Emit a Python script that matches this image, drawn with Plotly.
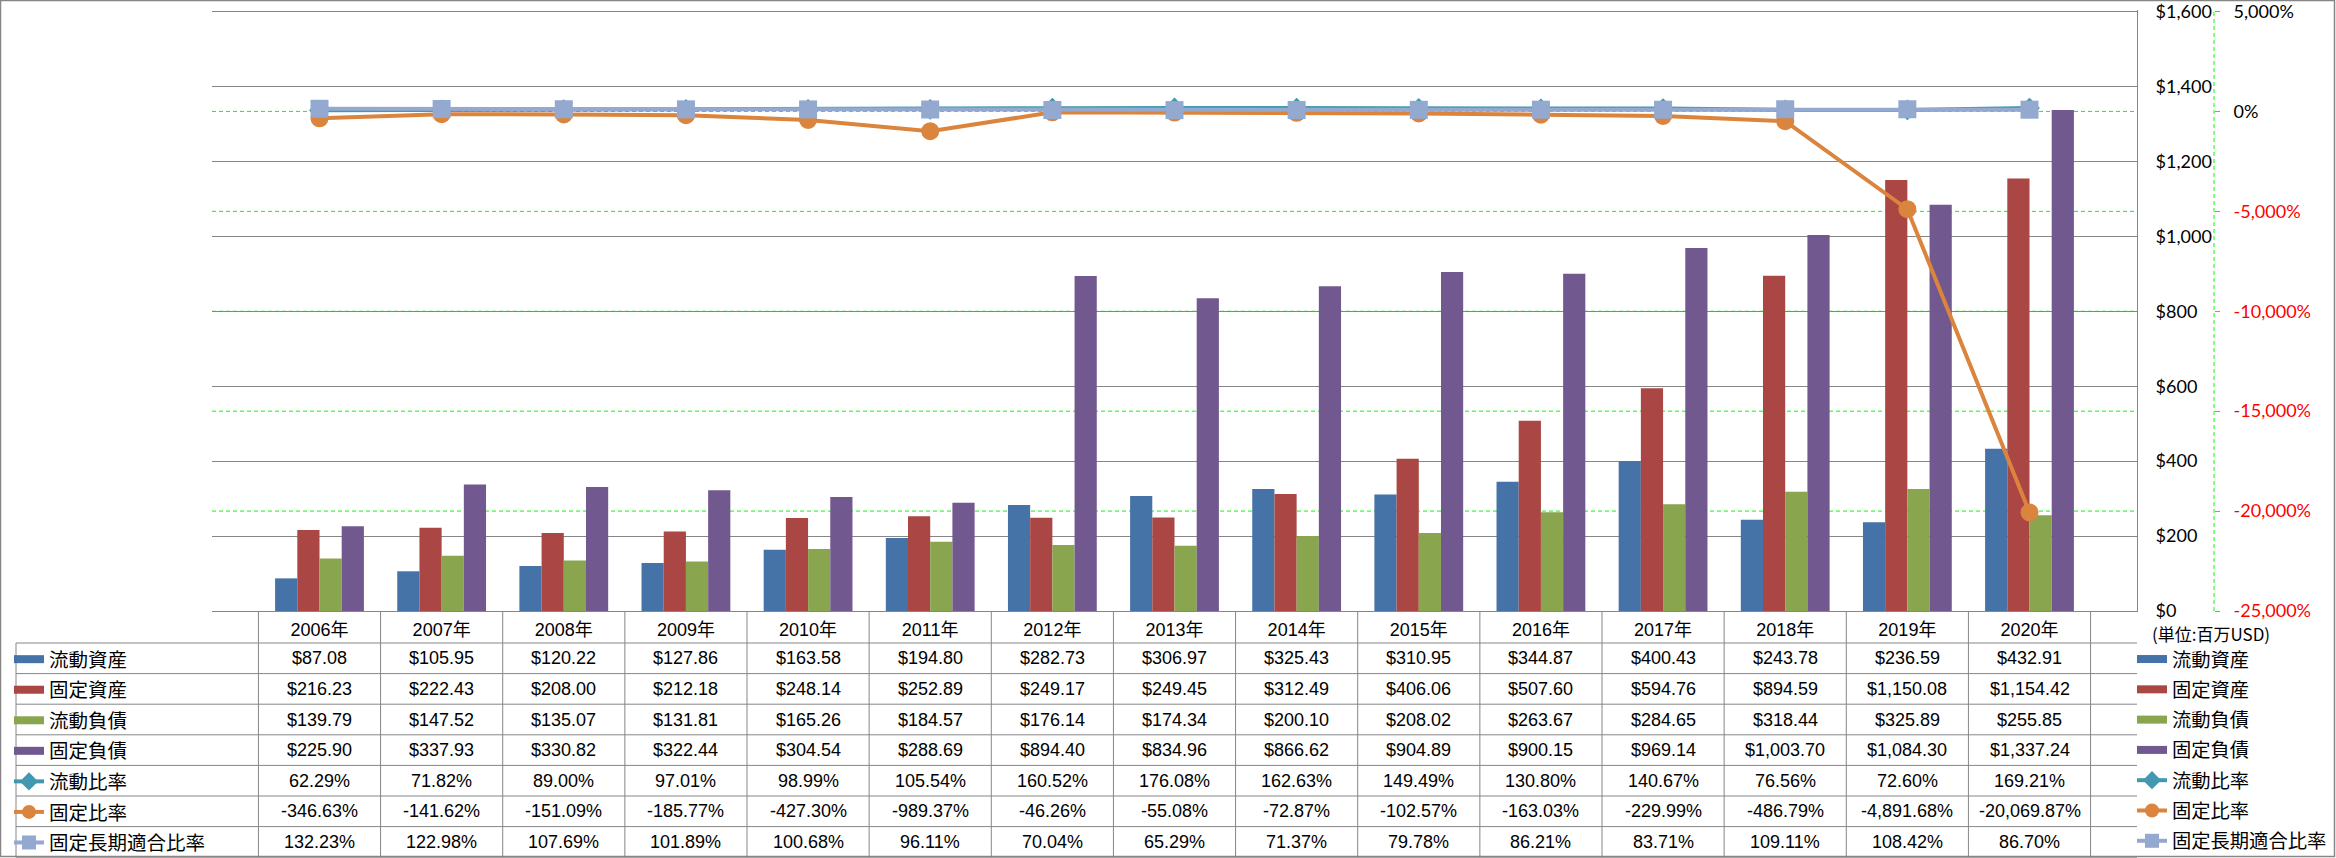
import plotly.graph_objects as go

# ---------------- data ----------------
categories = ['2006年', '2007年', '2008年', '2009年', '2010年', '2011年', '2012年', '2013年',
              '2014年', '2015年', '2016年', '2017年', '2018年', '2019年', '2020年']

current_assets = [87.08, 105.95, 120.22, 127.86, 163.58, 194.80, 282.73, 306.97,
                  325.43, 310.95, 344.87, 400.43, 243.78, 236.59, 432.91]
fixed_assets = [216.23, 222.43, 208.00, 212.18, 248.14, 252.89, 249.17, 249.45,
                312.49, 406.06, 507.60, 594.76, 894.59, 1150.08, 1154.42]
current_liabilities = [139.79, 147.52, 135.07, 131.81, 165.26, 184.57, 176.14, 174.34,
                       200.10, 208.02, 263.67, 284.65, 318.44, 325.89, 255.85]
fixed_liabilities = [225.90, 337.93, 330.82, 322.44, 304.54, 288.69, 894.40, 834.96,
                     866.62, 904.89, 900.15, 969.14, 1003.70, 1084.30, 1337.24]

current_ratio = [62.29, 71.82, 89.00, 97.01, 98.99, 105.54, 160.52, 176.08,
                 162.63, 149.49, 130.80, 140.67, 76.56, 72.60, 169.21]
fixed_ratio = [-346.63, -141.62, -151.09, -185.77, -427.30, -989.37, -46.26, -55.08,
               -72.87, -102.57, -163.03, -229.99, -486.79, -4891.68, -20069.87]
fixed_long_term_ratio = [132.23, 122.98, 107.69, 101.89, 100.68, 96.11, 70.04, 65.29,
                         71.37, 79.78, 86.21, 83.71, 109.11, 108.42, 86.70]

bar_names = ['流動資産', '固定資産', '流動負債', '固定負債']
line_names = ['流動比率', '固定比率', '固定長期適合比率']

y1_ticks = [0, 200, 400, 600, 800, 1000, 1200, 1400, 1600]
y2_ticks = [-25000, -20000, -15000, -10000, -5000, 0, 5000]
unit_label = '(単位:百万USD)'

# ---------------- styles ----------------
bar_colors = ['#4572A7', '#AA4643', '#89A54E', '#71588F']
line_colors = ['#4198AF', '#DB843D', '#93A9CF']
line_symbols = ['diamond', 'circle', 'square']
line_sizes = [16, 18, 18]
GRAY = '#868686'
GREEN = '#00FF00'
CJK = 'Noto Sans CJK JP'
NUMFONT = 'Liberation Sans, Noto Sans CJK JP'
AXFONT = 'Lato, Noto Sans CJK JP'

W, H = 2336, 858
ML, MR, MT, MB = 212, 122, 10, 247
PW = W - ML - MR
PH = H - MT - MB
PLOT_RIGHT = 2137
xdom = (PLOT_RIGHT - ML) / PW
TOP_PAD_PX = 1.5  # headroom so the top gridline is drawn
EPS = TOP_PAD_PX / (PH - TOP_PAD_PX)


def px_x(X):
    return (X - ML) / PW


def px_y(Y):
    return (H - MB - Y) / PH


row_top = 643
row_h = 30.6
row_bounds = [row_top + k * row_h for k in range(8)]
row_centers = [row_top + (k + 0.5) * row_h for k in range(7)]

fig = go.Figure()

bar_series = [current_assets, fixed_assets, current_liabilities, fixed_liabilities]
for name, vals, col in zip(bar_names, bar_series, bar_colors):
    fig.add_trace(go.Bar(x=categories, y=vals, name=name, marker=dict(color=col, line=dict(width=0)),
                         showlegend=False, yaxis='y'))

line_series = [current_ratio, fixed_ratio, fixed_long_term_ratio]
for name, vals, col, sym, sz in zip(line_names, line_series, line_colors, line_symbols, line_sizes):
    fig.add_trace(go.Scatter(x=categories, y=vals, name=name, yaxis='y2', mode='lines+markers',
                             line=dict(color=col, width=4),
                             marker=dict(symbol=sym, size=sz, color=col, line=dict(width=0)),
                             showlegend=False))

# legend key entries (left table keys and right legend)
for lg in ['legend', 'legend2']:
    for k, (name, col) in enumerate(zip(bar_names, bar_colors)):
        fig.add_trace(go.Scatter(x=[None], y=[None], name=name, mode='lines',
                                 line=dict(color=col, width=8), legend=lg,
                                 legendgroup=f'{lg}_b{k}', showlegend=True))
    for k, (name, col, sym) in enumerate(zip(line_names, line_colors, line_symbols)):
        fig.add_trace(go.Scatter(x=[None], y=[None], name=name, mode='lines+markers',
                                 line=dict(color=col, width=4),
                                 marker=dict(symbol=sym, size=14, color=col),
                                 legend=lg, legendgroup=f'{lg}_l{k}', showlegend=True))

# table text
money_rows = [current_assets, fixed_assets, current_liabilities, fixed_liabilities]
pct_rows = [current_ratio, fixed_ratio, fixed_long_term_ratio]
table_text = [[f'${v:,.2f}' for v in r] for r in money_rows] + \
             [[f'{v:,.2f}%' for v in r] for r in pct_rows]

annotations = []
for r, texts in enumerate(table_text):
    for c, t in enumerate(texts):
        annotations.append(dict(x=categories[c], xref='x', y=px_y(row_centers[r]), yref='paper',
                                text=t, showarrow=False, xanchor='center', yanchor='middle',
                                font=dict(family=NUMFONT, size=18, color='#000000')))
annotations.append(dict(x=px_x(2150), xref='paper', y=px_y(633), yref='paper', text=unit_label,
                        showarrow=False, xanchor='left', yanchor='middle',
                        font=dict(family=CJK, size=17, color='#000000')))

shapes = []
# secondary-axis gridlines (inner ticks only)
for v in y2_ticks[1:-1]:
    shapes.append(dict(type='line', xref='paper', yref='y2', x0=0, x1=xdom, y0=v, y1=v,
                       line=dict(color=GREEN, width=1, dash='4px,3px'), layer='below'))
# horizontal table lines
for Y in row_bounds:
    shapes.append(dict(type='line', xref='paper', yref='paper', x0=px_x(16), x1=xdom,
                       y0=px_y(Y), y1=px_y(Y), line=dict(color=GRAY, width=1)))
# vertical table lines
shapes.append(dict(type='line', xref='paper', yref='paper', x0=px_x(16), x1=px_x(16),
                   y0=px_y(row_top), y1=px_y(row_bounds[-1]), line=dict(color=GRAY, width=1)))
for i in range(len(categories) + 1):
    shapes.append(dict(type='line', xref='x', yref='paper', x0=i - 0.5, x1=i - 0.5,
                       y0=0, y1=px_y(row_bounds[-1]), line=dict(color=GRAY, width=1)))
# secondary axis dashed line
shapes.append(dict(type='line', xref='paper', yref='y2', x0=1, x1=1, y0=y2_ticks[0], y1=y2_ticks[-1],
                   line=dict(color=GREEN, width=1, dash='4px,3px')))
# outer chart border
shapes.append(dict(type='rect', xref='paper', yref='paper', x0=px_x(0.5), x1=px_x(W - 1.5),
                   y0=px_y(0.5), y1=px_y(H - 1.5), line=dict(color=GRAY, width=1.5),
                   fillcolor='rgba(0,0,0,0)', layer='above'))

y1_text = [f'${v:,}' for v in y1_ticks]
y2_text = []
for v in y2_ticks:
    s = f'{v:,}%'
    y2_text.append(f'<span style="color:#FF0000">{s}</span>' if v < 0 else s)

y1_range = [y1_ticks[0], y1_ticks[-1] + (y1_ticks[-1] - y1_ticks[0]) * EPS]
y2_range = [y2_ticks[0], y2_ticks[-1] + (y2_ticks[-1] - y2_ticks[0]) * EPS]

fig.update_layout(
    width=W, height=H,
    margin=dict(l=ML, r=MR, t=MT, b=MB, pad=0, autoexpand=False),
    paper_bgcolor='white', plot_bgcolor='white',
    barmode='group', bargap=0.273, bargroupgap=0,
    xaxis=dict(domain=[0, xdom], type='category', showline=True, linecolor=GRAY, linewidth=1,
               ticks='', showgrid=False, zeroline=False, ticklabelstandoff=2,
               tickfont=dict(family=NUMFONT, size=18, color='#000000'), fixedrange=True),
    yaxis=dict(range=y1_range, tickvals=y1_ticks, ticktext=y1_text, side='right', showgrid=True,
               gridcolor=GRAY, gridwidth=1, showline=True, linecolor=GRAY, linewidth=1, zeroline=False,
               ticks='', ticklabelstandoff=14, ticklabeloverflow='allow',
               tickfont=dict(family=AXFONT, size=18, color='#000000')),
    yaxis2=dict(range=y2_range, overlaying='y', anchor='free', position=1, side='right',
                tickvals=y2_ticks, ticktext=y2_text, showgrid=False, showline=False, zeroline=False,
                ticks='outside', ticklen=5, tickcolor=GREEN, ticklabelstandoff=10,
                ticklabeloverflow='allow',
                tickfont=dict(family=AXFONT, size=18, color='#000000')),
    legend=dict(x=px_x(9), y=px_y(row_top - 3), xanchor='left', yanchor='top',
                bgcolor='rgba(0,0,0,0)', borderwidth=0, tracegroupgap=2.2,
                font=dict(family=CJK, size=19.5, color='#000000'), itemclick=False),
    legend2=dict(x=px_x(2132), y=px_y(row_top - 3), xanchor='left', yanchor='top',
                 bgcolor='rgba(0,0,0,0)', borderwidth=0, tracegroupgap=2.2,
                 font=dict(family=CJK, size=19.3, color='#000000'), itemclick=False),
    shapes=shapes,
    annotations=annotations,
)

fig.write_html('out.html', config={'displayModeBar': False},
               post_script="document.body.style.margin='0';document.body.style.overflow='hidden';")
